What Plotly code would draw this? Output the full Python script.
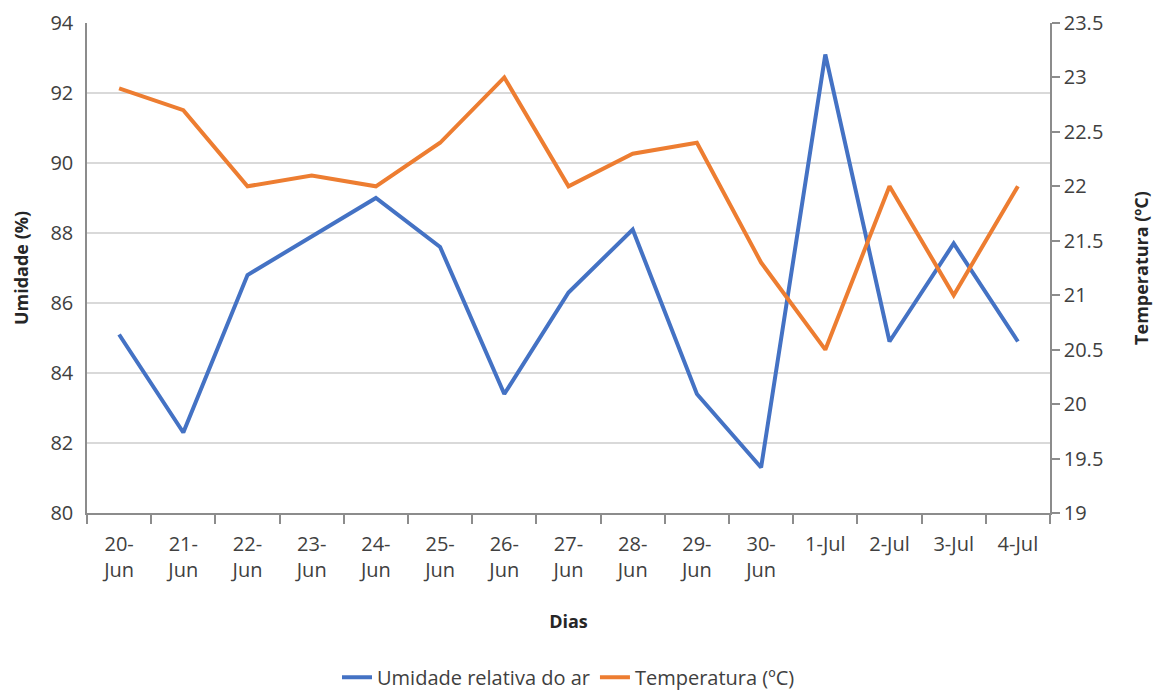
import plotly.graph_objects as go

dias = ["20-<br>Jun", "21-<br>Jun", "22-<br>Jun", "23-<br>Jun", "24-<br>Jun", "25-<br>Jun",
        "26-<br>Jun", "27-<br>Jun", "28-<br>Jun", "29-<br>Jun", "30-<br>Jun",
        "1-Jul", "2-Jul", "3-Jul", "4-Jul"]
umidade = [85.1, 82.3, 86.8, 87.9, 89.0, 87.6, 83.4, 86.3, 88.1, 83.4, 81.3, 93.1, 84.9, 87.7, 84.9]
temperatura = [22.9, 22.7, 22.0, 22.1, 22.0, 22.4, 23.0, 22.0, 22.3, 22.4, 21.3, 20.5, 22.0, 21.0, 22.0]

FONT = "Open Sans, Noto Sans, sans-serif"
TICKC = "#404040"
TITLEC = "#262626"
TS = 20
TT = 18

fig = go.Figure()
fig.add_trace(go.Scatter(x=dias, y=umidade, name="Umidade relativa do ar", mode="lines",
                         line=dict(color="#4472C4", width=4)))
fig.add_trace(go.Scatter(x=dias, y=temperatura, name="Temperatura (ºC)", mode="lines",
                         line=dict(color="#ED7D31", width=4), yaxis="y2"))

fig.update_layout(
    width=1161, height=701,
    margin=dict(l=79, r=119, t=15, b=188),
    paper_bgcolor="white", plot_bgcolor="white",
    font=dict(family=FONT, size=TS, color=TICKC),
    showlegend=True,
    legend=dict(orientation="h", x=0.5, xanchor="center", y=-0.335, yanchor="middle",
                font=dict(size=TS, color=TICKC), traceorder="normal"),
    xaxis=dict(
        type="category", range=[-0.5, 14.5], automargin=False,
        showline=True, linecolor="#8c8c8c", linewidth=1.5,
        ticks="outside", tickson="boundaries", ticklen=9, tickcolor="#8c8c8c", tickwidth=1.5,
        ticklabelstandoff=12,
        showgrid=False,
        tickfont=dict(size=TS, color=TICKC),
        title=dict(text="<b>Dias</b>", font=dict(size=TT, color=TITLEC), standoff=34),
    ),
    yaxis=dict(
        range=[80, 94], dtick=2, automargin=False, ticklabeloverflow="allow",
        showline=True, linecolor="#8c8c8c", linewidth=1.5,
        showgrid=True, gridcolor="#d9d9d9", gridwidth=1.5,
        zeroline=False, ticks="", ticklabelstandoff=8,
        tickfont=dict(size=TS, color=TICKC),
        title=dict(text="<b>Umidade (%)</b>", font=dict(size=TT, color=TITLEC), standoff=17),
    ),
    yaxis2=dict(
        range=[19, 23.5], dtick=0.5, overlaying="y", side="right", automargin=False,
        ticklabeloverflow="allow",
        showline=True, linecolor="#8c8c8c", linewidth=1.5,
        showgrid=False, zeroline=False,
        ticks="outside", ticklen=8, tickcolor="#8c8c8c", tickwidth=1.5,
        tickfont=dict(size=TS, color=TICKC),
        title=dict(text="<b>Temperatura (ºC)</b>", font=dict(size=TT, color=TITLEC), standoff=33),
    ),
)

fig.write_html("out.html")
